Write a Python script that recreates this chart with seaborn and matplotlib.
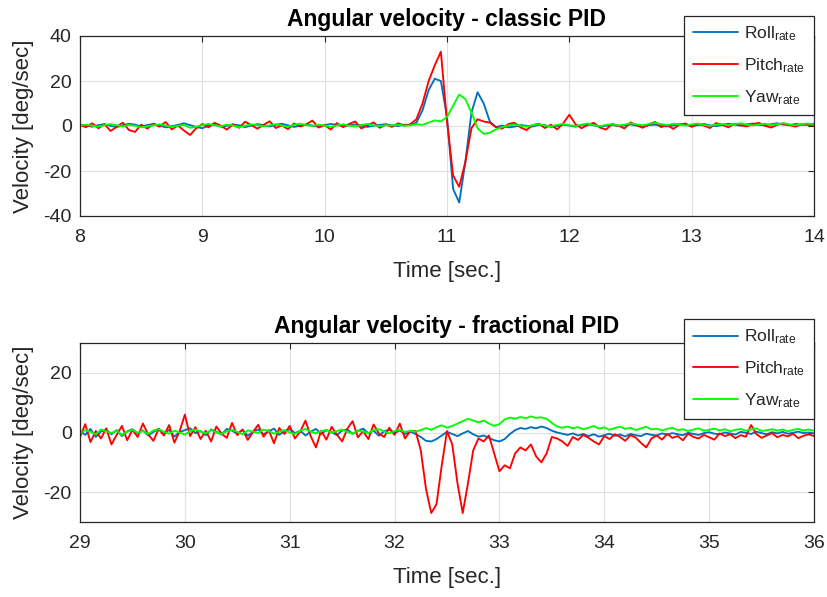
import numpy as np
import pandas as pd
import seaborn as sns
import matplotlib.pyplot as plt

time_classic = np.linspace(8.0, 14.0, 121)
time_fractional = np.linspace(29.0, 36.0, 141)

roll_classic = [
    0.5, 0.2, -0.3, 0.4, 0.8, 0.1, -0.5, 0.3, 1.0, 0.6,
    -0.2, 0.4, 0.9, 0.2, -0.6, -0.1, 0.5, 1.2, 0.4, -0.4,
    -1.0, 0.2, 0.6, -0.3, 0.1, 0.7, 0.3, -0.5, 0.2, 0.8,
    0.4, -0.2, 0.5, 1.0, 0.3, -0.4, 0.1, 0.6, 0.2, -0.3,
    0.4, 0.9, 0.5, -0.1, 0.3, 0.7, 0.2, -0.4, 0.1, 0.5,
    0.8, 0.3, 0.0, 0.6,
    0.4, 1.5, 7.0, 16.0, 21.0, 20.0, 4.0, -28.0, -34.0, -16.0,
    6.0, 15.0, 10.0, 2.0, -0.5,
    0.2, -0.6, -0.3, 0.4, 0.1, -0.2, 0.5, 0.3, -0.4, 0.0,
    0.6, 0.2, -0.3, 0.4, 0.8, 0.3, -0.2, 0.1, 0.5, -0.1,
    0.3, 0.7, 0.2, -0.3, 0.4, 0.6, 0.1, -0.2, 0.3, 0.8,
    0.5, 0.0, 0.4, 0.9, 0.3, -0.1, 0.5, 1.0, 0.6, 0.2,
    0.7, 1.1, 0.5, 0.3, 0.8, 1.2, 0.6, 0.4, 0.9, 0.5,
    0.7, 1.0,
]
pitch_classic = [
    0.3, -0.5, 1.2, -1.0, 0.8, -2.2, -0.4, 1.5, -1.8, -2.6,
    0.6, -1.2, 1.0, -0.3, 1.8, -1.5, 0.2, -2.0, -4.0, -1.0,
    0.9, -0.6, 1.4, 0.2, -1.6, 0.7, -0.8, 1.9, 0.4, -1.2,
    0.5, 2.1, -0.9, 0.3, -1.4, 1.1, -0.2, 0.8, 2.4, -0.7,
    0.4, -1.6, 1.3, -0.5, 0.9, 2.0, -1.1, 0.3, 1.6, -0.8,
    0.6, -0.4, 1.2, 0.2,
    0.8, 3.0, 10.0, 20.0, 27.0, 33.0, 2.0, -22.0, -27.0, -16.0,
    -1.0, 3.0, 2.0, 1.5, -0.5,
    -1.2, 0.8, 1.5, -0.6, -1.8, 0.4, 1.0, -0.9, 0.6, -1.5,
    1.2, 5.0, 0.8, -1.0, 0.5, 1.4, -0.7, -1.6, 0.9, 0.2,
    -1.1, 1.6, 0.3, -0.8, 0.7, 1.8, -0.5, 0.4, -1.3, 0.6,
    1.1, -0.4, 0.9, 0.2, -0.9, 1.3, 0.5, -0.6, 1.0, 0.3,
    -0.2, 0.8, 1.4, 0.1, -0.7, 0.6, 1.1, 0.4, -0.3, 0.9,
    0.5, 0.2,
]
yaw_classic = [
    0.2, 0.6, 0.1, -0.3, 0.4, 0.8, 0.3, -0.2, 0.5, 0.1,
    -0.6, -0.2, 0.3, 0.7, 0.2, -0.4, 0.1, 0.5, -0.8, -0.3,
    0.4, 0.9, 0.3, -0.1, 0.6, 0.2, -0.5, 0.1, 0.7, 0.4,
    -0.2, 0.3, 0.8, 0.2, -0.3, 0.5, 1.0, 0.4, 0.0, 0.6,
    0.2, -0.4, 0.3, 0.7, 0.1, -0.2, 0.5, 0.9, 0.3, -0.1,
    0.4, 0.2, 0.6, 0.1,
    0.3, 0.8, 0.5, 1.5, 2.5, 2.0, 4.0, 9.0, 14.0, 12.0,
    6.0, -1.0, -3.5, -3.0, -1.5,
    -0.5, 0.2, 0.6, 0.1, -0.3, 0.4, 0.8, 0.2, -0.2, 0.5,
    0.9, 0.3, 0.0, 0.6, 1.1, 0.4, -0.1, 0.5, 0.8, 0.2,
    0.6, 1.2, 0.7, 0.3, 0.9, 1.4, 0.8, 0.4, 1.0, 0.6,
    0.2, 0.7, 1.1, 0.5, 0.1, 0.6, 0.9, 0.3, 0.8, 1.2,
    0.6, 0.2, 0.7, 1.0, 0.4, 0.8, 1.3, 0.7, 0.3, 0.9,
    1.1, 0.6,
]

roll_fractional = [
    0.6, -0.8, 1.2, -1.5, 0.3, 1.0, -0.6, 0.8, -1.2, 0.4,
    1.1, -0.3, 0.7, -1.0, 0.2, 1.3, -0.5, 0.9, -1.4, 0.1,
    0.8, 1.4, -0.2, 0.5, -0.9, 1.0, 0.3, -0.7, 1.2, 0.6,
    -0.4, 0.9, -1.1, 0.2, 1.0, -0.6, 0.4, 1.3, -0.8, 0.5,
    1.1, -0.2, 0.6, -1.0, 0.3, 1.2, -0.5, 0.8, 0.1, -0.9,
    0.7, 1.0, -0.4, 0.5, 1.3, -0.3, 0.6, -1.1, 0.4, 0.9,
    -0.2, 0.7, -0.5, 0.3,
    -0.5, -1.5, -2.8, -3.0, -2.2, -1.0, 0.2, -0.5, -1.2,
    -0.3, 0.5, -0.6, -1.4, -1.0, -1.8, -2.6, -3.0, -2.2,
    -0.5, 0.8, 1.5, 1.2, 1.8, 1.4, 2.0, 1.5, 0.6, 0.0, -0.4,
    -0.8, -0.3, -1.0, -0.5, -1.2, -0.6, -1.4, -0.9, -0.4, -1.1,
    -0.7, -1.3, -0.5, -0.9, -1.2, -0.4, -0.8, -1.0, -0.3, -0.7,
    -0.2, -0.6, -0.9, -0.1, -0.5, -0.8, -0.2, 0.1, -0.4, -0.6,
    0.0, -0.3, -0.7, 0.2, -0.1, -0.5, 0.3, -0.2, -0.6, 0.1,
    -0.3, 0.2, -0.4, -0.1, 0.3, -0.2, 0.0, -0.3,
]
pitch_fractional = [
    -1.5, 2.8, -3.2, 0.5, -2.0, 1.4, -4.0, -0.8, 2.2, -2.6,
    0.9, -1.5, 3.0, -0.6, -2.8, 1.2, -1.0, 2.5, -3.4, 0.4,
    6.0, -1.2, 1.8, -2.2, 0.6, -3.0, 2.0, -0.4, -1.8, 3.2,
    -0.9, 1.0, -2.5, 0.2, 2.6, -1.4, 0.8, -3.6, 1.5, -0.5,
    2.2, -2.0, 0.3, 4.0, -1.2, -5.0, 0.6, -2.4, 1.9, -0.7,
    -3.0, 1.3, 3.8, -1.6, 0.4, -2.2, 2.7, -0.3, -1.5, 1.6,
    -0.8, 3.0, -2.0, 0.5,
    0.5, -6.0, -19.0, -27.0, -24.0, -11.0, 0.5, -4.0, -17.0,
    -27.0, -17.0, -6.0, -2.0, -3.0, -1.0, -7.0, -13.0, -11.0,
    -12.0, -7.0, -5.0, -6.0, -4.0, -8.0, -10.0, -7.0, -1.5, -2.0, -3.0,
    -4.5, -1.5, -2.5, -0.8, -1.8, -3.0, -4.0, -1.2, -2.2, -0.6,
    -1.5, -2.8, -0.9, -1.7, -3.5, -5.0, -2.0, -1.0, -2.4, -0.5,
    -1.8, -1.2, -2.6, -0.4, -1.5, -2.0, -0.8, -1.6, -2.4, -0.3,
    -1.2, -0.6, -1.9, -0.9, -1.4, 2.5, -0.5, -1.8, -1.0, -0.2,
    -1.6, -0.8, -1.3, -0.4, -1.9, -1.1, -0.6, -1.2,
]
yaw_fractional = [
    -0.3, 0.8, 0.2, -0.6, 1.0, 0.4, -0.2, 0.6, -0.8, 0.3,
    0.9, -0.1, 0.5, -0.5, 0.7, 1.1, 0.2, -0.4, 0.6, 0.0,
    -0.7, 0.5, 1.0, 0.3, -0.3, 0.8, 0.1, -0.5, 0.4, 0.9,
    0.2, -0.6, 0.7, 0.3, -0.2, 1.0, 0.5, -0.4, 0.2, 0.8,
    0.0, -0.5, 0.6, 1.2, 0.3, -0.3, 0.4, 0.9, -0.1, 0.5,
    1.0, 0.2, -0.4, 0.7, 0.3, -0.2, 0.8, 1.1, 0.4, -0.3,
    0.5, 0.9, 0.2, 0.6,
    0.3, 0.8, 1.5, 0.9, 1.8, 2.4, 1.6, 2.2, 3.0,
    3.8, 4.6, 4.0, 3.4, 4.0, 3.0, 2.2, 2.8, 4.4,
    5.0, 4.6, 5.2, 4.8, 5.4, 4.9, 5.1, 4.6, 3.2, 2.0, 1.6,
    2.0, 1.4, 1.8, 1.1, 1.6, 2.2, 1.3, 1.7, 0.9, 1.5,
    2.0, 1.2, 1.6, 0.8, 1.4, 1.9, 1.0, 1.3, 0.7, 1.2,
    1.6, 0.8, 1.1, 0.5, 1.0, 1.4, 0.6, 0.9, 1.3, 0.7,
    1.1, 0.4, 0.9, 1.2, 0.6, 1.0, 1.4, 0.5, 0.8, 1.1,
    0.6, 1.0, 0.4, 0.9, 1.2, 0.7, 1.0, 0.6,
]

signal_names = ["Roll", "Pitch", "Yaw"]
legend_labels = [r"Roll$_{\mathrm{rate}}$", r"Pitch$_{\mathrm{rate}}$", r"Yaw$_{\mathrm{rate}}$"]
colors = {"Roll": "#0072BD", "Pitch": "#FF0000", "Yaw": "#00FF00"}


def long_frame(t, roll, pitch, yaw):
    parts = []
    for name, vals in zip(signal_names, [roll, pitch, yaw]):
        parts.append(pd.DataFrame({"Time": t, "Velocity": vals, "Signal": name}))
    return pd.concat(parts, ignore_index=True)


df_classic = long_frame(time_classic, roll_classic, pitch_classic, yaw_classic)
df_fractional = long_frame(time_fractional, roll_fractional, pitch_fractional, yaw_fractional)

sns.set_theme(style="whitegrid")
plt.rcParams["font.family"] = ["Liberation Sans", "DejaVu Sans"]
plt.rcParams["mathtext.fontset"] = "custom"
plt.rcParams["mathtext.rm"] = "Liberation Sans"
plt.rcParams["mathtext.it"] = "Liberation Sans:italic"
plt.rcParams["axes.unicode_minus"] = False

fig = plt.figure(figsize=(8.28, 5.97), dpi=100)
ax_top = fig.add_axes([80 / 828, 1 - 216 / 597, 734 / 828, 180 / 597])
ax_bot = fig.add_axes([80 / 828, 1 - 522 / 597, 734 / 828, 179 / 597])


def draw_panel(ax, df, xlim, ylim, yticks, title, legend_lift):
    sns.lineplot(data=df, x="Time", y="Velocity", hue="Signal", hue_order=signal_names,
                 palette=colors, estimator=None, sort=False, linewidth=1.35,
                 legend=False, ax=ax)
    ax.set_xlim(xlim)
    ax.set_ylim(ylim)
    ax.set_xticks(range(xlim[0], xlim[1] + 1))
    ax.set_yticks(yticks)
    ax.grid(True, color="#dfdfdf", linewidth=0.8)
    for s in ax.spines.values():
        s.set_visible(True)
        s.set_color("#262626")
        s.set_linewidth(0.9)
    ax.tick_params(direction="in", length=4, width=0.8, top=True, right=True,
                   color="#262626", labelcolor="#262626", labelsize=14)
    ax.tick_params(axis="x", pad=9)
    ax.tick_params(axis="y", pad=6)
    ax.set_title(title, fontsize=16.5, fontweight="bold", pad=7, color="black")
    ax.set_xlabel("Time [sec.]", fontsize=16, color="#262626", labelpad=11)
    ax.set_ylabel("Velocity [deg/sec]", fontsize=16, color="#262626", labelpad=7)

    leg = ax.legend(handles=ax.lines[:3], labels=legend_labels, loc="upper right",
                    bbox_to_anchor=(1.0, 1.0 + legend_lift / 179), borderaxespad=0,
                    fontsize=12.5, frameon=True, fancybox=False, framealpha=1,
                    edgecolor="#262626", handlelength=2.6, handletextpad=0.35,
                    labelspacing=0.75, borderpad=0.5)
    leg.get_frame().set_linewidth(0.9)


draw_panel(ax_top, df_classic, (8, 14), (-40, 40), [-40, -20, 0, 20, 40],
           "Angular velocity - classic PID", 20)
draw_panel(ax_bot, df_fractional, (29, 36), (-30, 30), [-20, 0, 20],
           "Angular velocity - fractional PID", 24)

fig.savefig("out.png", dpi=100)
